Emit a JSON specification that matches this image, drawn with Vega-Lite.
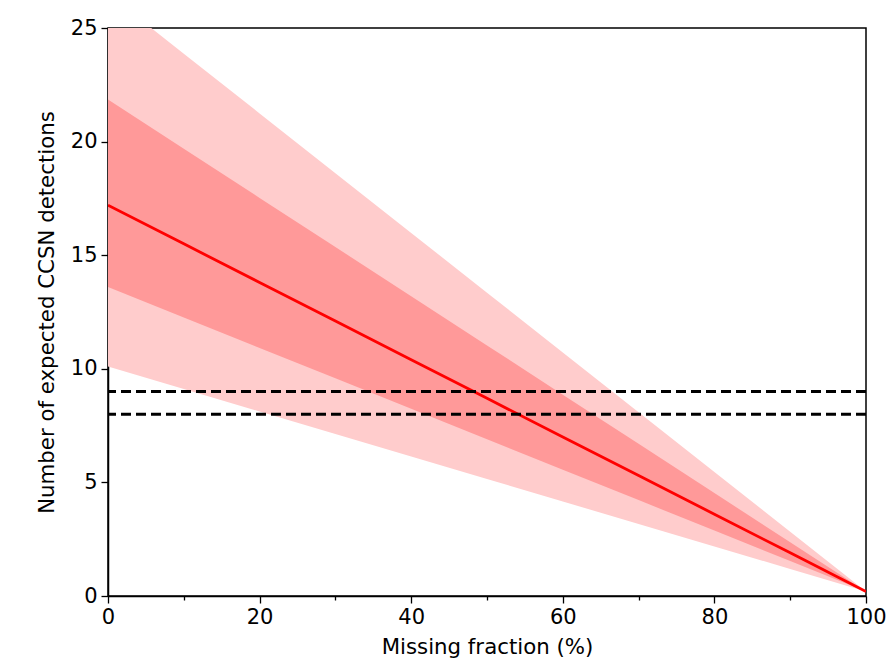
{
  "$schema": "https://vega.github.io/schema/vega-lite/v6.json",
  "width": 758,
  "height": 568,
  "autosize": {"type": "none"},
  "padding": {"left": 108, "top": 28, "right": 30, "bottom": 73},
  "background": "white",
  "config": {
    "view": {"stroke": "black", "strokeWidth": 1.5},
    "font": "DejaVu Sans",
    "axis": {
      "domainColor": "black",
      "domainWidth": 1.5,
      "tickColor": "black",
      "tickWidth": 1.3,
      "labelColor": "black",
      "titleColor": "black",
      "labelFontSize": 21,
      "titleFontSize": 21.3,
      "titleFontWeight": "normal",
      "labelFlush": false,
      "labelOverlap": false,
      "grid": false
    }
  },
  "datasets": {
    "bands": [
      {"f": 0, "mid": 17.2, "lo1": 13.6, "hi1": 21.85, "lo2": 10.1, "hi2": 26.5},
      {"f": 10, "mid": 15.5, "lo1": 12.26, "hi1": 19.69, "lo2": 9.11, "hi2": 23.87},
      {"f": 20, "mid": 13.8, "lo1": 10.92, "hi1": 17.52, "lo2": 8.12, "hi2": 21.24},
      {"f": 30, "mid": 12.1, "lo1": 9.58, "hi1": 15.36, "lo2": 7.13, "hi2": 18.61},
      {"f": 40, "mid": 10.4, "lo1": 8.24, "hi1": 13.19, "lo2": 6.14, "hi2": 15.98},
      {"f": 50, "mid": 8.7, "lo1": 6.9, "hi1": 11.03, "lo2": 5.15, "hi2": 13.35},
      {"f": 60, "mid": 7.0, "lo1": 5.56, "hi1": 8.86, "lo2": 4.16, "hi2": 10.72},
      {"f": 70, "mid": 5.3, "lo1": 4.22, "hi1": 6.7, "lo2": 3.17, "hi2": 8.09},
      {"f": 80, "mid": 3.6, "lo1": 2.88, "hi1": 4.53, "lo2": 2.18, "hi2": 5.46},
      {"f": 90, "mid": 1.9, "lo1": 1.54, "hi1": 2.37, "lo2": 1.19, "hi2": 2.83},
      {"f": 100, "mid": 0.2, "lo1": 0.2, "hi1": 0.2, "lo2": 0.2, "hi2": 0.2}
    ],
    "thresholds": [{"thr": 8}, {"thr": 9}]
  },
  "data": {"name": "bands"},
  "encoding": {
    "x": {
      "field": "f",
      "type": "quantitative",
      "scale": {"domain": [0, 100], "nice": false},
      "axis": {
        "title": "Missing fraction (%)",
        "values": [0, 10, 20, 30, 40, 50, 60, 70, 80, 90, 100],
        "labelExpr": "datum.value % 20 === 0 ? datum.label : ''",
        "tickSize": {"condition": {"test": "datum.value % 20 !== 0", "value": 4}, "value": 7},
        "labelPadding": 3,
        "titlePadding": 9
      }
    }
  },
  "layer": [
    {
      "mark": {"type": "area", "color": "#ffcccc", "opacity": 1, "clip": true},
      "encoding": {
        "y": {
          "field": "lo2",
          "type": "quantitative",
          "scale": {"domain": [0, 25], "nice": false},
          "axis": {
            "title": "Number of expected CCSN detections",
            "values": [0, 5, 10, 15, 20, 25],
            "tickSize": 7,
            "labelPadding": 4,
            "titlePadding": 13
          }
        },
        "y2": {"field": "hi2"}
      }
    },
    {
      "mark": {"type": "area", "color": "#ff9999", "opacity": 1, "clip": true},
      "encoding": {
        "y": {"field": "lo1", "type": "quantitative"},
        "y2": {"field": "hi1"}
      }
    },
    {
      "mark": {"type": "line", "color": "#ff0000", "strokeWidth": 2.8, "clip": true},
      "encoding": {
        "y": {"field": "mid", "type": "quantitative"}
      }
    },
    {
      "data": {"name": "thresholds"},
      "mark": {"type": "rule", "color": "black", "strokeWidth": 2.8, "strokeDash": [10, 5]},
      "encoding": {
        "x": null,
        "y": {"field": "thr", "type": "quantitative"}
      }
    }
  ]
}
